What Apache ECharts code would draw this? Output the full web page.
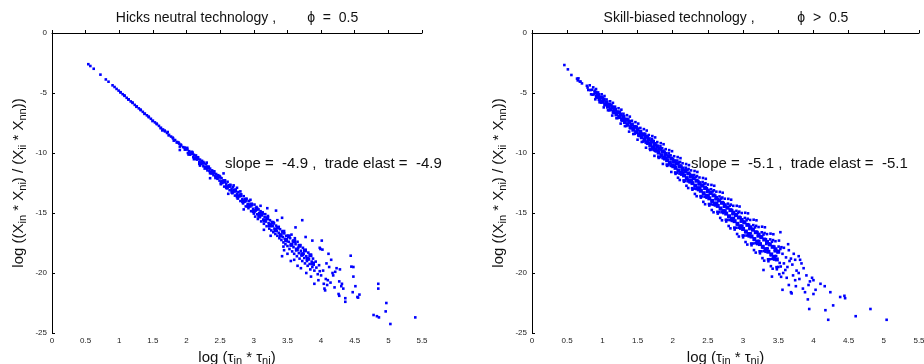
<!DOCTYPE html>
<html>
<head>
<meta charset="utf-8">
<script src="https://cdn.jsdelivr.net/npm/echarts@6/dist/echarts.min.js"></script>
<style>html,body{margin:0;padding:0;background:#fff}#c{width:924px;height:364px}</style>
</head>
<body>
<div id="c"></div>
<script>
// ---- tick values ----
const xTicks = [0, 0.5, 1, 1.5, 2, 2.5, 3, 3.5, 4, 4.5, 5, 5.5];
const yTicks = [-25, -20, -15, -10, -5, 0];

// ---- titles / annotations ----
const leftTitle = 'Hicks neutral technology ,        \u03D5  =  0.5';
const rightTitle = 'Skill-biased technology ,           \u03D5  >  0.5';
const leftNote = 'slope =  -4.9 ,  trade elast =  -4.9';
const rightNote = 'slope =  -5.1 ,  trade elast =  -5.1';

// ---- Hicks neutral panel: [log(tau_in*tau_ni), log((X_in*X_ni)/(X_ii*X_nn))] ----
const hicksThin = [
[0.54,-2.60],[0.57,-2.75],[0.62,-2.98],[0.72,-3.47],[0.80,-3.87],[0.84,-4.06],[0.90,-4.36],[0.93,-4.50],[0.96,-4.66],[0.99,-4.80],
[1.02,-4.95],[1.05,-5.10],[1.08,-5.24],[1.11,-5.40],[1.14,-5.53],[1.17,-5.70],[1.20,-5.83],[1.23,-5.99],[1.26,-6.12],[1.29,-6.28],
[1.32,-6.43],[1.35,-6.57],[1.38,-6.72],[1.41,-6.86],[1.44,-7.02],[1.47,-7.15],[1.50,-7.31],[1.53,-7.45],[1.56,-7.60],[1.59,-7.74],
[1.62,-7.90],[1.65,-8.04],[1.68,-8.20],[1.71,-8.33],[1.74,-8.49],[1.77,-8.63],[1.80,-8.79],[1.83,-8.92],[1.86,-9.08],[1.89,-9.22],
[1.92,-9.37],[1.95,-9.51],[1.98,-9.67],
[1.015,-4.93],[1.075,-5.20],[1.135,-5.55],[1.195,-5.79],[1.255,-6.15],[1.315,-6.38],[1.375,-6.74],[1.435,-6.96],[1.495,-7.34],
[1.555,-7.55],[1.615,-7.93],[1.675,-8.13],[1.735,-8.53],[1.795,-8.72],[1.855,-9.13],[1.915,-9.30],[1.975,-9.72],
[1.64,-8.12],[1.72,-8.25],[1.81,-8.97],[1.88,-9.12],[1.90,-9.47],[1.97,-9.55],[1.90,-9.75]
];
const hicksMid = [
[2.01,-9.70],[2.02,-10.00],[2.04,-9.85],[2.05,-10.12],[2.07,-10.05],[2.08,-9.90],[2.10,-10.35],[2.11,-10.15],[2.13,-10.40],[2.14,-10.20],
[2.16,-10.55],[2.17,-10.40],[2.19,-10.78],[2.20,-10.55],[2.22,-10.90],[2.23,-10.65],[2.25,-11.10],[2.26,-10.85],[2.28,-11.20],[2.29,-10.95],
[2.31,-11.45],[2.32,-11.15],[2.34,-11.50],[2.35,-11.30],[2.37,-11.70],[2.38,-11.45],[2.40,-11.85],[2.41,-11.55],[2.43,-11.95],[2.44,-11.75],
[2.46,-12.15],[2.47,-11.85],[2.49,-12.30],[2.50,-12.00],[2.35,-12.10],[2.55,-11.70],[2.30,-10.80],[2.20,-11.05],
[2.51,-12.60],[2.52,-12.10],[2.53,-12.35],[2.55,-12.45],[2.56,-12.80],[2.57,-12.30],[2.59,-12.60],[2.60,-12.95],[2.61,-12.40],[2.63,-12.80],
[2.64,-13.10],[2.65,-12.65],[2.67,-13.00],[2.68,-13.35],[2.69,-12.85],[2.71,-13.20],[2.72,-13.55],[2.73,-13.05],[2.75,-13.40],[2.76,-13.80],
[2.77,-13.25],[2.79,-13.60],[2.80,-14.00],[2.81,-13.45],[2.83,-13.85],[2.84,-14.20],[2.85,-13.60],[2.87,-14.05],[2.88,-14.45],[2.89,-13.80],
[2.91,-14.25],[2.92,-14.60],[2.93,-14.00],[2.95,-14.45],[2.96,-14.85],[2.97,-14.25],[2.99,-14.65],[3.00,-15.05],
[2.80,-13.20],[2.70,-12.70],[2.95,-13.90],[2.62,-13.40],[2.85,-14.70],[2.75,-12.90]
];
const hicksWide = [
[3.01,-14.30],[3.02,-15.30],[3.03,-14.80],[3.04,-14.50],[3.05,-15.10],[3.06,-15.50],[3.07,-14.70],[3.08,-15.00],[3.09,-15.35],[3.10,-14.85],
[3.11,-15.70],[3.12,-15.20],[3.13,-14.95],[3.14,-15.55],[3.15,-15.90],[3.16,-15.35],[3.17,-15.10],[3.18,-15.70],[3.19,-16.10],[3.20,-15.50],
[3.21,-15.25],[3.22,-15.85],[3.23,-16.30],[3.24,-15.60],[3.25,-15.95],[3.26,-16.45],[3.27,-15.75],[3.28,-16.10],[3.29,-16.60],[3.30,-15.85],
[3.31,-16.30],[3.32,-16.75],[3.33,-16.05],[3.34,-16.50],[3.35,-16.90],[3.36,-16.20],[3.37,-16.65],[3.38,-17.10],[3.39,-16.35],[3.40,-16.80],
[3.41,-17.25],[3.42,-16.55],[3.43,-17.00],[3.44,-17.45],[3.45,-16.70],[3.46,-17.15],[3.47,-17.60],[3.48,-16.90],[3.49,-17.35],[3.50,-17.75],
[3.33,-14.80],[3.20,-14.60],[3.10,-14.40],[3.42,-15.40],[3.35,-15.60],[3.25,-16.90],[3.45,-18.10],[3.15,-16.40],
[3.51,-16.90],[3.52,-17.40],[3.53,-18.00],[3.54,-17.10],[3.55,-17.70],[3.56,-16.80],[3.57,-18.20],[3.58,-17.35],[3.59,-17.85],[3.60,-18.40],
[3.61,-17.10],[3.62,-17.60],[3.63,-18.10],[3.64,-18.60],[3.65,-17.40],[3.66,-17.90],[3.67,-18.35],[3.68,-18.80],[3.69,-17.70],[3.70,-18.15],
[3.71,-18.55],[3.72,-19.00],[3.73,-17.90],[3.74,-18.40],[3.75,-18.75],[3.76,-19.20],[3.77,-18.10],[3.78,-18.60],[3.79,-19.00],[3.80,-19.40],
[3.81,-18.30],[3.82,-18.85],[3.83,-19.25],[3.84,-19.70],[3.85,-18.55],[3.86,-19.05],[3.87,-19.50],[3.88,-18.80],[3.89,-19.30],[3.90,-19.80],
[3.92,-19.05],[3.93,-19.55],[3.95,-20.10],[3.97,-19.35],[3.98,-19.85],
[3.62,-16.20],[3.72,-15.60],[3.77,-17.00],[3.87,-17.30],[3.98,-17.90],[4.01,-17.30],[3.42,-18.60],[3.50,-18.40],[3.55,-19.00],[3.65,-19.40],
[3.78,-20.00],[3.85,-20.30],[3.90,-20.90],[3.60,-18.90],[3.70,-19.60],[3.44,-17.80]
];
const hicksTail = [
[3.99,-18.00],[4.02,-18.05],[4.11,-18.40],[4.05,-21.30],[4.06,-21.45],[4.09,-21.00],[4.10,-20.60],[4.17,-20.00],[4.18,-20.20],[4.23,-19.60],
[4.28,-19.70],[4.27,-20.70],[4.31,-20.90],[4.30,-21.10],[4.33,-21.30],[4.26,-21.75],[4.36,-22.10],[4.36,-22.40],[4.27,-21.90],[4.44,-18.56],
[4.45,-19.47],[4.48,-19.50],[4.48,-20.30],[4.51,-21.10],[4.47,-21.60],[4.54,-22.00],[4.57,-21.80],[4.55,-22.05],[4.85,-20.90],[4.85,-21.30],
[4.97,-22.50],[4.96,-23.20],[4.78,-23.50],[4.83,-23.60],[4.86,-23.70],[5.03,-24.25],[5.40,-23.70],
[4.00,-20.20],[4.03,-19.80],[4.07,-20.50],[4.12,-19.50],[4.14,-20.80],[4.20,-21.20],[4.04,-20.90],[3.96,-20.60],[4.08,-19.20],[4.15,-18.90],[4.21,-19.90]
];
// densest part of the Hicks band
const hicksCore = [
[2.00,-9.63],[2.04,-10.07],[2.08,-10.02],[2.12,-10.46],[2.16,-10.41],[2.20,-10.85],[2.24,-10.81],[2.28,-11.24],[2.32,-11.20],[2.36,-11.63],
[2.40,-11.59],[2.44,-12.03],[2.48,-11.98],[2.52,-12.45],[2.56,-12.34],[2.60,-12.84],[2.64,-12.74],[2.68,-13.23],[2.72,-13.13],[2.76,-13.62],
[2.80,-13.52],[2.84,-14.02],[2.88,-13.91],[2.92,-14.41],[2.96,-14.30],[3.00,-14.85],[3.04,-14.65],[3.08,-15.24],[3.12,-15.04],[3.16,-15.63],
[3.20,-15.43],[3.24,-16.03],[3.28,-15.82],[3.32,-16.42],[3.36,-16.21],[3.40,-16.86],[3.44,-16.56],[3.48,-17.25],[3.52,-16.95],[3.56,-17.64],
[3.60,-17.34],[3.64,-18.04],[3.68,-17.73],[3.72,-18.43],[3.76,-18.12],[3.80,-18.82],[3.84,-18.52],[3.88,-19.21]
];

// ---- Skill-biased panel ----
const skillNarrow = [
[0.46,-2.67],[0.51,-3.03],[0.56,-3.50],[0.64,-3.80],[0.65,-3.95],[0.69,-4.05],[0.78,-4.40],[0.80,-4.75],[0.79,-4.55],[0.66,-3.78],[0.68,-4.05],[0.71,-4.20],
[0.82,-4.36],[0.83,-4.76],[0.84,-5.11],[0.85,-4.73],[0.86,-5.14],[0.87,-4.53],[0.88,-5.11],[0.89,-4.80],[0.90,-5.53],[0.91,-4.67],[0.92,-5.37],[0.93,-5.19],
[0.94,-4.95],[0.95,-5.39],[0.96,-5.77],[0.97,-5.35],[0.98,-5.79],[0.99,-5.11],[1.00,-5.75],[1.01,-5.40],[1.02,-6.20],[1.03,-5.25],[1.04,-6.01],[1.05,-5.81],
[1.06,-5.54],[1.07,-6.01],[1.08,-6.44],[1.09,-5.96],[1.10,-6.44],[1.11,-5.69],[1.12,-6.39],[1.13,-6.00],[1.14,-6.88],[1.15,-5.82],[1.16,-6.66],[1.17,-6.43],
[1.18,-6.14],[1.19,-6.65],[1.20,-7.10],[1.21,-6.58],[1.22,-7.09],[1.23,-6.27],[1.24,-7.03],[1.25,-6.60],[1.26,-7.55],[1.27,-6.39],[1.28,-7.30],[1.29,-7.05],
[1.30,-6.73],[1.31,-7.27],[1.32,-7.76],[1.33,-7.19],[1.34,-7.75],[1.35,-6.85],[1.36,-7.66],[1.37,-7.20],[1.38,-8.22],[1.39,-6.97],[1.40,-7.94],[1.41,-7.66],
[1.42,-7.31],[1.43,-7.91],[1.44,-8.42],[1.45,-7.80],[1.46,-8.40],[1.47,-7.43],[1.48,-8.31],[1.49,-7.80],[1.50,-8.89],[1.51,-7.55],[1.52,-8.58],[1.53,-8.29],
[1.54,-7.91],[1.55,-8.53],[1.56,-9.08],[1.57,-8.42],[1.58,-9.05],[1.59,-8.01]
];
const skillMid = [
[1.60,-8.94],[1.61,-8.40],[1.62,-9.56],[1.615,-9.13],[1.63,-8.13],[1.64,-9.23],[1.65,-8.90],[1.645,-8.69],[1.66,-8.50],[1.67,-9.16],[1.68,-9.75],[1.675,-9.64],
[1.69,-9.03],[1.70,-9.71],[1.71,-8.59],[1.705,-8.84],[1.72,-9.58],[1.73,-9.00],[1.74,-10.24],[1.735,-9.77],[1.75,-8.70],[1.76,-9.87],[1.77,-9.52],[1.765,-9.30],
[1.78,-9.09],[1.79,-9.79],[1.80,-10.41],[1.795,-10.30],[1.81,-9.65],[1.82,-10.35],[1.83,-9.18],[1.825,-9.44],[1.84,-10.22],[1.85,-9.60],[1.86,-10.91],[1.855,-10.42],
[1.87,-9.27],[1.88,-10.52],[1.89,-10.15],[1.885,-9.90],[1.90,-9.68],[1.91,-10.42],[1.92,-11.07],[1.915,-10.96],[1.93,-10.27],[1.94,-11.01],[1.95,-9.76],[1.945,-10.03],
[1.96,-10.86],[1.97,-10.20],[1.98,-11.58],[1.975,-11.07],[1.99,-9.85],[2.00,-11.16],[2.01,-10.76],[2.005,-10.51],
[2.02,-10.27],[2.03,-11.05],[2.04,-11.74],[2.035,-11.62],[2.045,-10.81],[2.05,-10.88],[2.06,-11.66],[2.07,-10.34],[2.065,-10.63],[2.075,-12.06],
[2.08,-11.50],[2.09,-10.80],[2.10,-12.25],[2.095,-11.71],[2.105,-10.74],[2.11,-10.43],[2.12,-11.80],[2.13,-11.39],[2.125,-11.12],[2.135,-11.64],
[2.14,-10.86],[2.15,-11.68],[2.16,-12.39],[2.155,-12.28],[2.165,-11.42],[2.17,-11.49],[2.18,-12.32],[2.19,-10.92],[2.185,-11.23],[2.195,-12.73],
[2.20,-12.13],[2.21,-11.40],[2.22,-12.92],[2.215,-12.36],[2.225,-11.33],[2.23,-11.01],[2.24,-12.45],[2.25,-12.00],[2.245,-11.73],[2.255,-12.28],
[2.26,-11.45],[2.27,-12.30],[2.28,-13.06],[2.275,-12.93],[2.285,-12.03],[2.29,-12.11],[2.30,-12.97],[2.31,-11.50],[2.305,-11.83],[2.315,-13.41],
[2.32,-12.77],[2.33,-12.00],[2.34,-13.60],[2.335,-13.00],[2.345,-11.92],[2.35,-11.58],[2.36,-13.09],[2.37,-12.62],[2.365,-12.34],[2.375,-12.91],
[2.38,-12.04],[2.39,-12.94],[2.40,-13.72],[2.395,-13.59],[2.405,-12.65],[2.41,-12.72],[2.42,-13.62],[2.43,-12.08],[2.425,-12.42],[2.435,-14.07],
[2.44,-13.41],[2.45,-12.60],[2.46,-14.27],[2.455,-13.65],[2.465,-12.52],[2.47,-12.15],[2.48,-13.73],[2.49,-13.24],[2.485,-12.94],[2.495,-13.53]
];
const skillWide = [
[2.50,-12.63],[2.51,-13.56],[2.52,-14.38],[2.515,-14.25],[2.525,-13.25],[2.53,-13.33],[2.54,-14.28],[2.55,-12.66],[2.545,-13.02],[2.555,-14.75],
[2.56,-14.05],[2.57,-13.20],[2.58,-14.94],[2.575,-14.30],[2.585,-13.11],[2.59,-12.73],[2.60,-14.37],[2.61,-13.86],[2.605,-13.55],[2.615,-14.17],
[2.62,-13.22],[2.63,-14.19],[2.64,-15.05],[2.635,-14.90],[2.645,-13.86],[2.65,-13.95],[2.66,-14.93],[2.67,-13.24],[2.665,-13.62],[2.675,-15.41],
[2.68,-14.69],[2.69,-13.80],[2.70,-15.61],[2.695,-14.94],[2.705,-13.71],[2.71,-13.31],[2.72,-15.01],[2.73,-14.48],[2.725,-14.16],[2.735,-14.80],
[2.74,-13.81],[2.75,-14.82],[2.76,-15.71],[2.755,-15.56],[2.765,-14.48],[2.77,-14.56],[2.78,-15.58],[2.79,-13.82],[2.785,-14.22],[2.795,-16.08],
[2.80,-15.33],[2.81,-14.40],[2.82,-16.28],[2.815,-15.59],[2.825,-14.30],[2.83,-13.89],[2.84,-15.66],[2.85,-15.10],[2.845,-14.76],[2.855,-15.43],
[2.86,-14.40],[2.87,-15.44],[2.88,-16.38],[2.875,-16.22],[2.885,-15.09],[2.89,-15.18],[2.90,-16.23],[2.91,-14.40],[2.905,-14.82],[2.915,-16.75],
[2.92,-15.96],[2.93,-15.00],[2.94,-16.96],[2.935,-16.23],[2.945,-14.89],[2.95,-14.46],[2.96,-16.30],[2.97,-15.72],[2.965,-15.37],[2.975,-16.06],
[2.98,-15.00],[2.99,-16.08],[3.00,-17.03],[2.995,-16.87],[3.005,-15.71],[3.01,-15.79],[3.02,-16.88],[3.03,-14.98],[3.025,-15.41],[3.035,-17.42],
[3.04,-16.60],[3.05,-15.60],[3.06,-17.63],[3.055,-16.88],[3.065,-15.48],[3.07,-15.03],[3.08,-16.95],[3.09,-16.34],[3.085,-15.98],[3.095,-16.69],
[3.10,-15.58],[3.11,-16.70],[3.12,-17.69],[3.115,-17.54],[3.125,-16.31],[3.13,-16.41],[3.14,-17.54],[3.15,-15.56],[3.145,-16.01],[3.155,-18.09],
[3.16,-17.24],[3.17,-16.20],[3.18,-18.30],[3.175,-17.52],[3.185,-16.07],[3.19,-15.61],[3.20,-17.59],[3.21,-16.95],[3.205,-16.59],[3.215,-17.33],
[3.22,-16.17],[3.23,-17.34],[3.24,-18.36],[3.235,-18.19],[3.245,-16.92],[3.25,-17.02],[3.26,-18.19],[3.27,-16.14],[3.265,-16.61],[3.275,-18.76],
[3.28,-17.88],[3.29,-16.80],[3.30,-18.97],[3.295,-18.17],[3.305,-16.67],[3.31,-16.19],[3.32,-18.23],[3.33,-17.58],[3.325,-17.19],[3.335,-17.95],
[3.34,-16.76],[3.35,-17.96],[3.36,-19.02],[3.355,-18.86],[3.365,-17.54],[3.37,-17.63],[3.38,-18.85],[3.39,-16.72],[3.385,-17.20],[3.395,-19.43],
[3.40,-18.52],[3.41,-17.40],[3.42,-19.64],[3.415,-18.82],[3.425,-17.26],[3.43,-16.77],[3.44,-18.88],[3.45,-18.19],[3.445,-17.80],[3.455,-18.59],
[3.46,-17.35],[3.47,-18.59],[3.48,-19.69],[3.475,-19.51],[3.485,-18.15],[3.49,-18.25],[3.50,-19.50],[3.51,-17.30],[3.505,-17.80],[3.515,-20.10],
[3.52,-19.16],[3.53,-18.00],[3.54,-20.32],[3.535,-19.46],[3.545,-17.85]
];
const skillTail = [
[3.65,-18.10],[3.68,-18.80],[3.60,-19.75],[3.57,-20.00],[3.41,-20.30],[3.29,-19.75],[3.86,-19.60],[3.81,-18.90],[3.79,-18.60],[3.80,-20.50],
[3.74,-20.60],[3.79,-20.00],[3.65,-21.00],[3.95,-20.70],[3.85,-21.30],[3.88,-21.60],[3.68,-21.60],[3.56,-21.40],[4.10,-20.90],[4.16,-21.10],
[4.24,-21.60],[4.03,-21.40],[4.00,-21.75],[3.92,-22.20],[4.38,-22.00],[4.44,-21.90],[4.45,-22.10],[4.28,-22.70],[4.17,-23.10],[3.94,-23.00],
[4.21,-23.90],[4.60,-23.60],[4.81,-23.00],[5.04,-23.90],[3.75,-21.10],[3.69,-21.70],[4.00,-20.60],[3.53,-16.60],
[3.56,-18.40],[3.58,-19.20],[3.61,-18.70],[3.63,-19.50],[3.66,-19.00],[3.70,-19.30],[3.72,-18.40],[3.76,-19.80],[3.83,-19.20],[3.62,-20.40],
[3.71,-20.20],[3.58,-17.90],[3.64,-17.60],[3.74,-18.90],[3.90,-20.20],[3.98,-20.40],[3.93,-21.00]
];
// densest part of the skill-biased band
const skillCore = [
[0.90,-4.97],[0.92,-5.30],[0.94,-5.17],[0.96,-5.51],[0.98,-5.37],[1.00,-5.73],[1.02,-5.57],[1.04,-5.94],[1.06,-5.78],[1.08,-6.15],
[1.10,-5.98],[1.12,-6.36],[1.14,-6.19],[1.16,-6.57],[1.18,-6.39],[1.20,-6.79],[1.22,-6.60],[1.24,-7.00],[1.26,-6.80],[1.28,-7.21],
[1.30,-7.00],[1.32,-7.42],[1.34,-7.21],[1.36,-7.63],[1.38,-7.41],[1.40,-7.85],[1.42,-7.62],[1.44,-8.06],[1.46,-7.82],[1.48,-8.27],
[1.50,-8.02],[1.52,-8.48],[1.54,-8.23],[1.56,-8.69],[1.58,-8.44],[1.60,-8.90],[1.62,-8.64],[1.64,-9.11],[1.66,-8.84],[1.68,-9.33],
[1.70,-9.04],[1.72,-9.54],[1.74,-9.25],[1.76,-9.75],[1.78,-9.45],[1.80,-9.97],[1.82,-9.66],[1.84,-10.18],[1.86,-9.86],[1.88,-10.39],
[1.90,-10.07],[1.92,-10.60],[1.94,-10.27],[1.96,-10.81],[1.98,-10.47],[2.00,-11.03],[2.02,-10.68],[2.04,-11.24],[2.06,-10.88],[2.08,-11.45],
[2.10,-11.09],[2.12,-11.66],[2.14,-11.29],[2.16,-11.87],[2.18,-11.50],[2.20,-12.09],[2.22,-11.70],[2.24,-12.29],[2.26,-11.90],[2.28,-12.51],
[2.30,-12.11],[2.32,-12.72],[2.34,-12.31],[2.36,-12.93],[2.38,-12.51],[2.40,-13.15],[2.42,-12.72],[2.44,-13.35],[2.46,-12.92],[2.48,-13.57],
[2.50,-13.13],[2.52,-13.78],[2.54,-13.33],[2.56,-13.99],[2.58,-13.53],[2.60,-14.21],[2.62,-13.74],[2.64,-14.41],[2.66,-13.95],[2.68,-14.62],
[2.70,-14.15],[2.72,-14.84],[2.74,-14.35],[2.76,-15.05],[2.78,-14.56],[2.80,-15.27],[2.82,-14.76],[2.84,-15.47],[2.86,-14.97],[2.88,-15.68],
[2.90,-15.17],[2.92,-15.90],[2.94,-15.37],[2.96,-16.11],[2.98,-15.58],[3.00,-16.33],[3.02,-15.78],[3.04,-16.54],[3.06,-15.99],[3.08,-16.75],
[3.10,-16.19],[3.12,-16.96],[3.14,-16.39],[3.16,-17.17],[3.18,-16.60],[3.20,-17.39],[3.22,-16.80],[3.24,-17.59],[3.26,-17.01],[3.28,-17.81],
[3.30,-17.21],[3.32,-18.02],[3.34,-17.41],[3.36,-18.23],[3.38,-17.62],[3.40,-18.45],[3.42,-17.82],[3.44,-18.66],[3.46,-18.02],[3.48,-18.87],
[3.50,-18.23]
];

const hicksPoints = hicksThin.concat(hicksMid, hicksWide, hicksTail);
const skillPoints = skillNarrow.concat(skillMid, skillWide, skillTail);

const FONT = '"Liberation Sans", Arial, Helvetica, sans-serif';
const xMin = xTicks[0], xMax = xTicks[xTicks.length - 1], xStep = xTicks[1] - xTicks[0];
const yMin = yTicks[0], yMax = yTicks[yTicks.length - 1], yStep = yTicks[1] - yTicks[0];

const nameRich = {
  n: { fontSize: 15, fontFamily: FONT, color: '#111' },
  s: { fontSize: 11, fontFamily: FONT, color: '#111', padding: [8, 0, 0, 0] }
};
const xName = '{n|log (\u03C4}{s|in}{n| * \u03C4}{s|ni}{n|)}';
const yName = '{n|log ((X}{s|in}{n| * X}{s|ni}{n|) / (X}{s|ii}{n| * X}{s|nn}{n|))}';

function xAxisCfg(gi) {
  return {
    gridIndex: gi, type: 'value', min: xMin, max: xMax, interval: xStep,
    axisLine: { show: true, lineStyle: { color: '#000', width: 1 } },
    axisTick: { show: true, inside: true, length: 3, lineStyle: { color: '#000' } },
    axisLabel: { fontSize: 8, color: '#222', margin: 4, fontFamily: FONT },
    splitLine: { show: false },
    name: xName, nameLocation: 'middle', nameGap: 14,
    nameTextStyle: { rich: nameRich }
  };
}
function yAxisCfg(gi) {
  return {
    gridIndex: gi, type: 'value', min: yMin, max: yMax, interval: yStep,
    axisLine: { show: true, onZero: false, lineStyle: { color: '#000', width: 1 } },
    axisTick: { show: true, inside: true, length: 3, lineStyle: { color: '#000' } },
    axisLabel: { fontSize: 8, color: '#222', margin: 5, fontFamily: FONT },
    splitLine: { show: false },
    name: yName, nameLocation: 'middle', nameRotate: 90, nameGap: 24,
    nameTextStyle: { rich: nameRich }
  };
}
function textEl(x, y, text, align, size) {
  return { type: 'text', x: x, y: y, silent: true,
    style: { text: text, font: size + 'px ' + FONT, fill: '#111', align: align, verticalAlign: 'middle' } };
}
function scatterSeries(gi, data, size) {
  return { type: 'scatter', xAxisIndex: gi, yAxisIndex: gi, data: data, symbol: 'rect', symbolSize: size,
    itemStyle: { color: '#0000ff', opacity: 1 }, silent: true };
}

const chart = echarts.init(document.getElementById('c'), null, { renderer: 'canvas' });
chart.setOption({
  animation: false,
  backgroundColor: '#fff',
  grid: [
    { left: 52, top: 33, width: 370, height: 300, outerBoundsMode: 'none', containLabel: false },
    { left: 532, top: 33, width: 387, height: 300, outerBoundsMode: 'none', containLabel: false }
  ],
  xAxis: [xAxisCfg(0), xAxisCfg(1)],
  yAxis: [yAxisCfg(0), yAxisCfg(1)],
  graphic: [
    textEl(237, 18, leftTitle, 'center', 14),
    textEl(726, 18, rightTitle, 'center', 14),
    textEl(225, 164, leftNote, 'left', 15),
    textEl(691, 164, rightNote, 'left', 15)
  ],
  series: [
    scatterSeries(0, hicksCore, 4),
    scatterSeries(0, hicksPoints, 2.6),
    scatterSeries(1, skillCore, 4),
    scatterSeries(1, skillPoints, 2.6)
  ]
});
</script>
</body>
</html>
